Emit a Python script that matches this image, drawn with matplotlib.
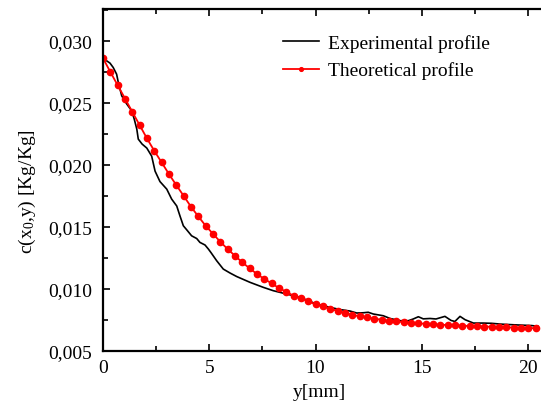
import numpy as np
import matplotlib
matplotlib.use("Agg")
import matplotlib.pyplot as plt
from matplotlib.ticker import MultipleLocator, FuncFormatter

plt.rcParams['font.family'] = ['Liberation Serif', 'DejaVu Serif']
plt.rcParams['mathtext.fontset'] = 'custom'
plt.rcParams['mathtext.rm'] = 'Liberation Serif'
plt.rcParams['mathtext.it'] = 'Liberation Serif:italic'

exp_x = [0.00, 0.17, 0.33, 0.48, 0.64, 0.72, 0.88, 1.12, 1.35, 1.47, 1.59, 1.66,
         1.84, 2.06, 2.29, 2.45, 2.68, 3.00, 3.23, 3.47, 3.62, 3.78, 3.95, 4.17,
         4.41, 4.56, 4.80, 4.96, 5.08, 5.35, 5.66, 5.98, 6.29, 6.92, 7.54, 8.01,
         8.64, 9.12, 9.27, 9.65, 9.98, 10.31, 10.68, 11.15, 11.62, 11.94, 12.25,
         12.48, 12.72, 13.19, 13.51, 13.98, 14.37, 14.60, 14.84, 15.07, 15.39,
         15.67, 16.09, 16.38, 16.56, 16.80, 17.04, 17.43, 17.90, 18.29, 18.68,
         19.23, 19.62, 20.17, 20.47]
exp_c = [0.02860, 0.02838, 0.02819, 0.02784, 0.02730, 0.02664, 0.02556, 0.02489,
         0.02435, 0.02368, 0.02288, 0.02207, 0.02167, 0.02135, 0.02070, 0.01949,
         0.01865, 0.01804, 0.01724, 0.01668, 0.01589, 0.01509, 0.01474, 0.01428,
         0.01406, 0.01375, 0.01354, 0.01321, 0.01293, 0.01227, 0.01160, 0.01128,
         0.01100, 0.01053, 0.01013, 0.00986, 0.00959, 0.00939, 0.00931, 0.00907,
         0.00882, 0.00866, 0.00852, 0.00834, 0.00822, 0.00806, 0.00808, 0.00812,
         0.00798, 0.00784, 0.00762, 0.00744, 0.00744, 0.00758, 0.00776, 0.00759,
         0.00762, 0.00758, 0.00779, 0.00746, 0.00738, 0.00779, 0.00752, 0.00725,
         0.00725, 0.00723, 0.00717, 0.00712, 0.00709, 0.00705, 0.00699]

# profilo teorico
theo_step = 0.345
theo_c = [0.02859, 0.02748, 0.02641, 0.02534, 0.02426, 0.02319, 0.02212, 0.02112,
          0.02019, 0.01925, 0.01836, 0.01750, 0.01662, 0.01584, 0.01509, 0.01444,
          0.01380, 0.01321, 0.01267, 0.01214, 0.01166, 0.01120, 0.01080, 0.01045,
          0.01007, 0.00977, 0.00945, 0.00924, 0.00900, 0.00876, 0.00860, 0.00838,
          0.00824, 0.00806, 0.00792, 0.00779, 0.00771, 0.00760, 0.00752, 0.00744,
          0.00739, 0.00733, 0.00728, 0.00723, 0.00719, 0.00715, 0.00712, 0.00709,
          0.00706, 0.00704, 0.00701, 0.00699, 0.00697, 0.00695, 0.00693, 0.00691,
          0.00689, 0.00687, 0.00685, 0.00684]
theo_x = np.arange(len(theo_c)) * theo_step

fig = plt.figure(figsize=(5.41, 4.06), dpi=100)
ax = fig.add_axes([0.1904, 0.133, 0.982, 0.842])

ax.plot(exp_x, exp_c, color='black', lw=1.2, label='Experimental profile')
ax.plot(theo_x, theo_c, color='#ff0000', lw=1.3, marker='o', markersize=4.5,
        label='Theoretical profile')

ax.set_xlim(0, 25)
ax.set_ylim(0.005, 0.03254)

ax.xaxis.set_major_locator(MultipleLocator(5))
ax.xaxis.set_minor_locator(MultipleLocator(2.5))
ax.yaxis.set_major_locator(MultipleLocator(0.005))
ax.yaxis.set_minor_locator(MultipleLocator(0.0025))
ax.yaxis.set_major_formatter(FuncFormatter(lambda v, p: f"{v:.3f}".replace('.', ',')))
ax.xaxis.set_major_formatter(FuncFormatter(lambda v, p: f"{v:.0f}"))

ax.tick_params(which='both', direction='in', top=True, right=True, width=1.2,
               labelsize=14)
ax.tick_params(which='major', length=5)
ax.tick_params(which='minor', length=3.5)
ax.tick_params(axis='y', pad=8)
ax.tick_params(axis='x', pad=6)
for s in ax.spines.values():
    s.set_linewidth(1.6)

ax.set_xlabel('y[mm]', fontsize=14)
ax.xaxis.set_label_coords(0.407, -0.094)
ax.set_ylabel('c(x$_0$,y) [Kg/Kg]', fontsize=14)
ax.yaxis.set_label_coords(-0.123, 0.47)

ax.legend(loc='upper left', bbox_to_anchor=(283 / 541, 1 - 35 / 406),
          bbox_transform=fig.transFigure, frameon=False, fontsize=14,
          borderpad=0, borderaxespad=0, handlelength=1.85, handletextpad=0.45,
          markerscale=0.6)

fig.savefig("out.png", dpi=100)
